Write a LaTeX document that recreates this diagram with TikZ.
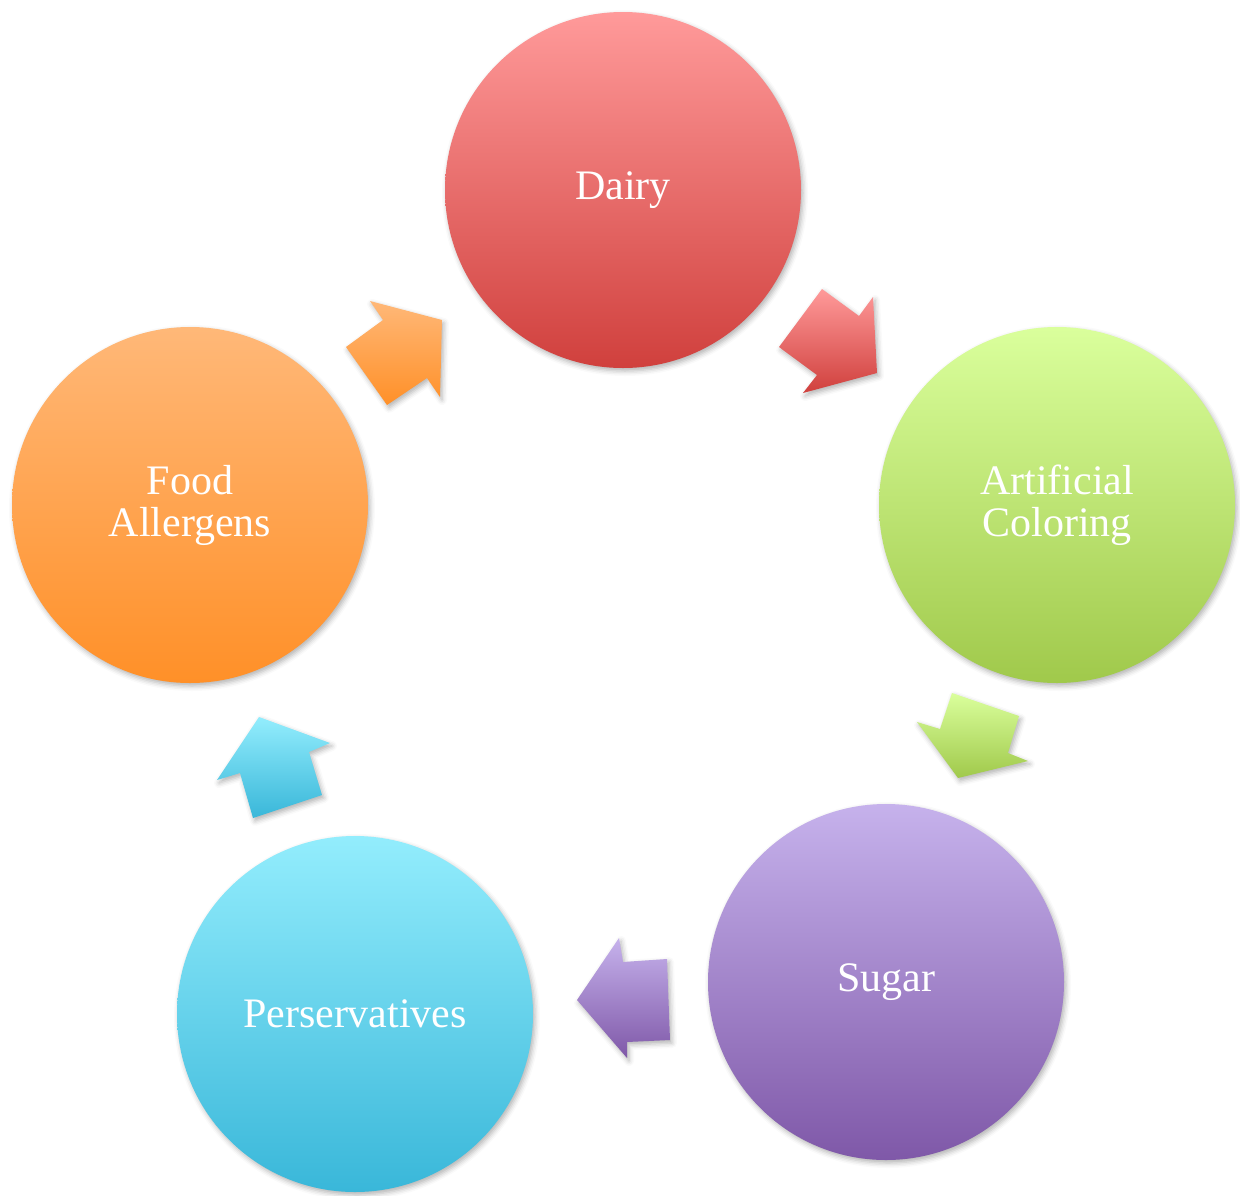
\documentclass[tikz,border=0pt]{standalone}
\usepackage{fontspec}
\setmainfont{Liberation Serif}
\usetikzlibrary{shadows.blur}

\definecolor{dairyTop}{HTML}{FF9A9A}
\definecolor{dairyBot}{HTML}{D0403D}
\definecolor{colorTop}{HTML}{DAFF9C}
\definecolor{colorBot}{HTML}{A0C94B}
\definecolor{sugarTop}{HTML}{C6B2EC}
\definecolor{sugarBot}{HTML}{7F58A8}
\definecolor{persTop}{HTML}{93EDFD}
\definecolor{persBot}{HTML}{39B7D9}
\definecolor{allerTop}{HTML}{FFB878}
\definecolor{allerBot}{HTML}{FF9028}

\begin{document}
\begin{tikzpicture}[x=1pt,y=-1pt,
  softshadow/.style={blur shadow={shadow xshift=2pt, shadow yshift=-3pt,
      shadow blur radius=5pt, shadow opacity=30}},
  topic/.style={circle, minimum size=356pt, inner sep=0pt, text=white,
      align=center, font=\fontsize{42}{42}\selectfont, softshadow},
  blockarrow/.style={softshadow}]

\useasboundingbox (0,0) rectangle (1240,1195);

% the five circles of the cycle
\node[topic, top color=dairyTop, bottom color=dairyBot] (dairy) at (623,190) {Dairy};
\node[topic, top color=colorTop, bottom color=colorBot] (coloring) at (1057,505) {Artificial\\Coloring};
\node[topic, top color=sugarTop, bottom color=sugarBot] (sugar) at (886,982) {Sugar};
\node[topic, top color=persTop, bottom color=persBot] (pers) at (355,1014) {Perservatives};
\node[topic, top color=allerTop, bottom color=allerBot] (aller) at (190,505) {Food\\Allergens};

% block arrows between neighbouring circles
\path[blockarrow, top color=dairyTop, bottom color=dairyBot]
  (779,347) -- (822,289) -- (859,316) -- (873,297) -- (877,373)
  -- (803,393) -- (817,375) -- cycle;
\path[blockarrow, top color=colorTop, bottom color=colorBot]
  (952,693) -- (1019,716) -- (1008,753) -- (1028,761) -- (958,778)
  -- (917,722) -- (940,729) -- cycle;
\path[blockarrow, top color=sugarTop, bottom color=sugarBot]
  (667,959) -- (670,1040) -- (627,1042) -- (627,1058) -- (577,1000)
  -- (619,938) -- (623,962) -- cycle;
\path[blockarrow, top color=persTop, bottom color=persBot]
  (253,818) -- (322,795) -- (309,752) -- (330,743) -- (259,717)
  -- (217,780) -- (240,773) -- cycle;
\path[blockarrow, top color=allerTop, bottom color=allerBot]
  (346,347) -- (383,320) -- (370,301) -- (442,320) -- (440,397)
  -- (427,378) -- (387,405) -- cycle;

\end{tikzpicture}
\end{document}
